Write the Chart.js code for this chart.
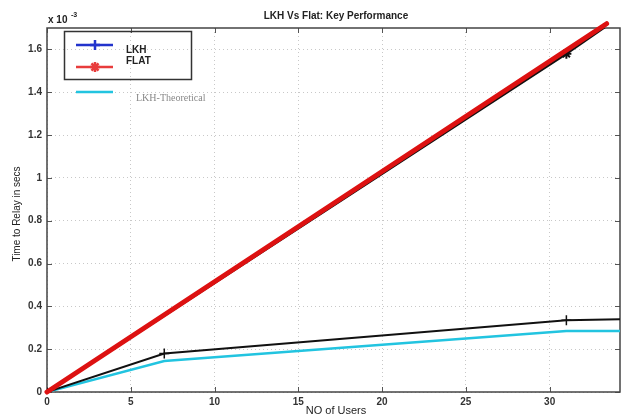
<!DOCTYPE html>
<html>
<head>
<meta charset="utf-8">
<script src="https://cdn.jsdelivr.net/npm/chart.js@4.4.0/dist/chart.umd.min.js"></script>
<style>
  html, body { margin: 0; padding: 0; background: #fff; }
  #wrap { width: 626px; height: 416px; position: relative; }
</style>
</head>
<body>
<div id="wrap"><canvas id="c" width="626" height="416"></canvas></div>
<script>
// values in units of 1e-3 seconds
const lkhUsers = [0, 7, 31, 34.2];
const lkhTime = [0, 0.18, 0.335, 0.34];
const flatUsers = [0, 31, 33.4];
const flatTime = [0, 1.58, 1.71];
const flatFitUsers = [0, 33.4];
const flatFitTime = [0, 1.72];
const theoUsers = [0, 7, 31, 34.2];
const theoTime = [0, 0.145, 0.285, 0.285];
const xTicks = [0, 5, 10, 15, 20, 25, 30];
const yTicks = [0, 0.2, 0.4, 0.6, 0.8, 1, 1.2, 1.4, 1.6];

const pts = (xs, ys) => xs.map((x, i) => ({ x: x, y: ys[i] }));
const tickFont = { family: 'Liberation Sans, Arial, sans-serif', size: 10, weight: 'bold' };

const extras = {
  id: 'extras',
  beforeDatasetsDraw(chart) {
    const ctx = chart.ctx, a = chart.chartArea;
    const xs = chart.scales.x, ys = chart.scales.y;
    ctx.save();
    ctx.strokeStyle = '#555';
    ctx.lineWidth = 1;
    ctx.beginPath();
    xTicks.forEach(v => {
      const px = Math.round(xs.getPixelForValue(v)) + 0.5;
      ctx.moveTo(px, a.bottom); ctx.lineTo(px, a.bottom - 5);
      ctx.moveTo(px, a.top); ctx.lineTo(px, a.top + 5);
    });
    yTicks.forEach(v => {
      const py = Math.round(ys.getPixelForValue(v)) + 0.5;
      ctx.moveTo(a.left, py); ctx.lineTo(a.left + 5, py);
      ctx.moveTo(a.right, py); ctx.lineTo(a.right - 5, py);
    });
    ctx.stroke();
    ctx.strokeStyle = '#444';
    ctx.lineWidth = 1.5;
    ctx.strokeRect(a.left, a.top, a.right - a.left, a.bottom - a.top);
    ctx.restore();
  },
  afterDraw(chart) {
    const ctx = chart.ctx;
    ctx.save();
    ctx.fillStyle = '#222';
    // title
    ctx.font = 'bold 10px Liberation Sans, Arial, sans-serif';
    ctx.textAlign = 'center';
    ctx.textBaseline = 'middle';
    ctx.fillText('LKH Vs Flat: Key Performance', 336, 16);
    // exponent
    ctx.textAlign = 'left';
    ctx.fillText('x 10', 48, 20);
    ctx.font = 'bold 7px Liberation Sans, Arial, sans-serif';
    ctx.fillText('-3', 71, 15);
    // x title
    ctx.font = '11px Liberation Sans, Arial, sans-serif';
    ctx.textAlign = 'center';
    ctx.fillText('NO of Users', 336, 411);
    // y title
    ctx.font = '10px Liberation Sans, Arial, sans-serif';
    ctx.translate(17, 214);
    ctx.rotate(-Math.PI / 2);
    ctx.fillText('Time to Relay in secs', 0, 0);
    ctx.restore();

    // legend
    ctx.save();
    ctx.strokeStyle = '#333';
    ctx.lineWidth = 1.5;
    ctx.strokeRect(64.5, 31.5, 127, 48);
    const item = (y, col, style) => {
      ctx.strokeStyle = col;
      ctx.lineWidth = 2.5;
      ctx.beginPath(); ctx.moveTo(76, y); ctx.lineTo(113, y); ctx.stroke();
      if (style) {
        Chart.helpers.drawPoint(ctx, { pointStyle: style, radius: 5, borderWidth: 2 }, 95, y);
      }
    };
    ctx.fillStyle = '#2233cc';
    item(45, '#2233cc', 'cross');
    ctx.fillStyle = '#e83c3c';
    item(67, '#e83c3c', 'star');
    item(92, '#22c4e0', null);
    ctx.fillStyle = '#222';
    ctx.font = 'bold 10px Liberation Sans, Arial, sans-serif';
    ctx.textAlign = 'left';
    ctx.textBaseline = 'middle';
    ctx.fillText('LKH', 126, 50);
    ctx.fillText('FLAT', 126, 61);
    ctx.fillStyle = '#888';
    ctx.font = '10px Liberation Serif, Times New Roman, serif';
    ctx.fillText('LKH-Theoretical', 136, 98);
    ctx.restore();
  }
};

new Chart(document.getElementById('c'), {
  type: 'line',
  data: {
    datasets: [
      {
        label: 'LKH-Theoretical',
        data: pts(theoUsers, theoTime),
        borderColor: '#22c4e0',
        borderWidth: 2.5,
        pointRadius: 0,
        tension: 0,
        order: 3
      },
      {
        label: 'LKH',
        data: pts(lkhUsers, lkhTime),
        borderColor: '#111',
        backgroundColor: '#111',
        borderWidth: 2,
        pointStyle: 'cross',
        pointRadius: [4, 5, 5, 0],
        pointBorderWidth: 1.5,
        pointBorderColor: '#111',
        tension: 0,
        order: 2
      },
      {
        label: 'FLAT',
        data: pts(flatUsers, flatTime),
        borderColor: '#111',
        backgroundColor: '#111',
        borderWidth: 2.5,
        pointStyle: 'star',
        pointRadius: [4, 5, 0],
        pointBorderWidth: 2,
        pointBorderColor: '#111',
        tension: 0,
        order: 1
      },
      {
        label: 'FLAT fit',
        data: pts(flatFitUsers, flatFitTime),
        borderColor: '#dd1111',
        borderWidth: 5,
        borderCapStyle: 'round',
        pointRadius: 0,
        tension: 0,
        clip: false,
        order: 0
      }
    ]
  },
  plugins: [extras],
  options: {
    responsive: false,
    animation: false,
    layout: { padding: { left: 0, right: 4, top: 28, bottom: 0 } },
    plugins: { legend: { display: false }, tooltip: { enabled: false } },
    scales: {
      x: {
        type: 'linear',
        min: 0,
        max: 34.2,
        afterBuildTicks: s => { s.ticks = xTicks.map(v => ({ value: v })); },
        afterFit: s => { s.height = 24; },
        grid: { color: '#c8c8c8', lineWidth: 1, drawTicks: false },
        border: { display: false, dash: [1, 3] },
        ticks: { font: tickFont, color: '#333', padding: 4, maxRotation: 0 }
      },
      y: {
        min: 0,
        max: 1.7,
        afterBuildTicks: s => { s.ticks = yTicks.map(v => ({ value: v })); },
        afterFit: s => { s.width = 47; },
        grid: { color: '#c8c8c8', lineWidth: 1, drawTicks: false },
        border: { display: false, dash: [1, 3] },
        ticks: { font: tickFont, color: '#333', padding: 5, callback: v => String(v) }
      }
    }
  }
});
</script>
</body>
</html>
